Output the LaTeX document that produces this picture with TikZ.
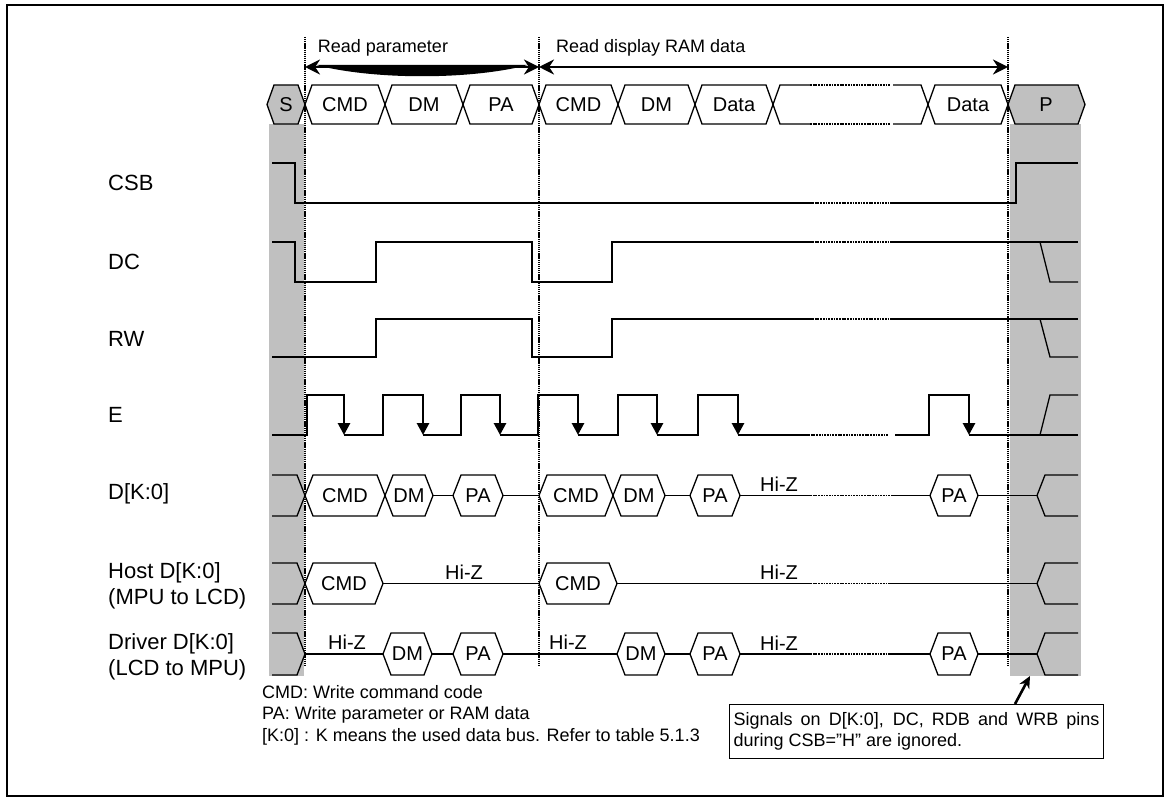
\documentclass[tikz,border=0pt]{standalone}
\usepackage{fontspec}
\setmainfont{Liberation Sans}
\usetikzlibrary{positioning, arrows.meta, calc}
\definecolor{ShadeGray}{RGB}{192, 192, 192}

% one bus value: from, to, centre y, half height, slant
\newcommand{\busseg}[5]{%
  \draw[sig] (#1,#3) -- (#1+#5,#3-#4) -- (#2-#5,#3-#4) -- (#2,#3)
    -- (#2-#5,#3+#4) -- (#1+#5,#3+#4) -- cycle;}

\begin{document}
\begin{tikzpicture}[x=1pt, y=-1pt,
    sig/.style={line width=1.3pt},
    hiz/.style={line width=1.6pt, dash pattern=on 1.8pt off 0.9pt},
    guide/.style={line width=1.3pt, dash pattern=on 1.3pt off 0.8pt},
    strobe/.style={line width=2.8pt, -{Triangle[length=12pt, width=12pt]}},
    lowline/.style={line width=1.8pt},
    span/.style={line width=2.6pt, {Stealth[length=15pt, width=15pt]}-{Stealth[length=15pt, width=15pt]}},
    lbl/.style={font=\fontsize{22}{26}\selectfont, anchor=base west, inner sep=0pt},
    val/.style={font=\fontsize{20}{24}\selectfont, inner sep=0pt},
    memo/.style={font=\fontsize{18}{21}\selectfont, inner sep=0pt}]
    \useasboundingbox (0,0) rectangle (1170,799);

    % frame
    \draw[line width=2.4pt] (7,5) rectangle (1163,796);

    % CSB="H" regions
    \fill[ShadeGray] (269,124) rectangle (304,676);
    \fill[ShadeGray] (1010,124) rectangle (1081,676);

    % phase guides
    \foreach \gx in {305,539,1008}
      \draw[guide] (\gx,37) -- (\gx,665);

    % phase spans
    \coordinate (g1) at (305,67);
    \coordinate (g2) at (539,67);
    \coordinate (g3) at (1008,67);
    \draw[span] (g1) -- (g2);
    \fill (316,65) -- (528,65) .. controls (470,80) and (374,80) .. (316,65);
    \draw[span] (g2) -- (g3);
    \node[memo] (readpar) at (383,48) {Read parameter};
    \node[memo, anchor=west] (readram) at (556,48) {Read display RAM data};

    % sequence row
    \filldraw[sig, fill=ShadeGray] (267,104.5) -- (274,85) -- (298,85) -- (305,104.5) -- (298,124) -- (274,124) -- cycle;
    \filldraw[sig, fill=ShadeGray] (1008,104.5) -- (1015,85) -- (1078,85) -- (1085,104.5) -- (1078,124) -- (1015,124) -- cycle;
    \node[val] (seqS) at (286,104.5) {S};
    \node[val] (seqP) at (1046,104.5) {P};
    \foreach \a/\b/\t [count=\i] in {305/385/CMD, 385/463/DM, 463/539/PA, 539/618/CMD, 618/695/DM, 695/773/Data, 928/1008/Data} {
      \busseg{\a}{\b}{104.5}{19.5}{7}
      \node[val] (seq\i) at ({(\a+\b)/2},104.5) {\t};
    }
    \draw[sig] (810,85) -- (780,85) -- (773,104.5) -- (780,124) -- (810,124);
    \draw[sig] (893,85) -- (921,85) -- (928,104.5) -- (921,124) -- (893,124);
    \draw[hiz] (810,85) -- (890,85);
    \draw[hiz] (810,124) -- (890,124);

    % signal names
    \node[lbl] (csb) at (108,191) {CSB};
    \node[lbl] (dc) at (108,270) {DC};
    \node[lbl] (rw) at (108,347) {RW};
    \node[lbl] (e) at (108,422) {E};
    \node[lbl] (dbus) at (108,499) {D[K:0]};
    \node[lbl] (hostA) at (108,578) {Host D[K:0]};
    \node[lbl] (hostB) at (108,604) {(MPU to LCD)};
    \node[lbl] (drvA) at (108,649) {Driver D[K:0]};
    \node[lbl] (drvB) at (108,675) {(LCD to MPU)};

    % CSB
    \draw[sig] (272,163) -- (295,163) -- (295,203) -- (812,203);
    \draw[hiz] (812,203) -- (892,203);
    \draw[sig] (892,203) -- (1016,203) -- (1016,163) -- (1078,163);

    % DC
    \draw[sig] (272,242) -- (295,242) -- (295,282) -- (376,282) -- (376,242) -- (532,242) -- (532,282) -- (612,282) -- (612,242) -- (812,242);
    \draw[hiz] (812,242) -- (892,242);
    \draw[sig] (892,242) -- (1078,242);
    \draw[sig] (1040,242) -- (1050,282) -- (1078,282);

    % RW
    \draw[sig] (272,357) -- (376,357) -- (376,319) -- (532,319) -- (532,357) -- (612,357) -- (612,319) -- (812,319);
    \draw[hiz] (812,319) -- (892,319);
    \draw[sig] (892,319) -- (1078,319);
    \draw[sig] (1040,319) -- (1050,357) -- (1078,357);

    % E
    \draw[sig] (272,435) -- (307,435);
    \foreach \r/\f in {307/344, 383/423, 461/500, 538/578, 618/657, 698/738, 929/969}
      \draw[strobe] (\r,436) -- (\r,395) -- (\f,395) -- (\f,435);
    \foreach \f/\r in {344/383, 423/461, 500/538, 578/618, 657/698}
      \draw[lowline] (\f,435) -- (\r,435);
    \draw[sig] (738,435) -- (808,435);
    \draw[hiz] (808,435) -- (888,435);
    \draw[sig] (895,435) -- (929,435);
    \draw[sig] (969,435) -- (1078,435);
    \draw[sig] (1040,435) -- (1050,395) -- (1078,395);

    % D[K:0]
    \draw[sig] (272,475) -- (297,475) -- (305,495.5) -- (297,516) -- (272,516);
    \foreach \a/\b/\t [count=\i] in {305/385/CMD, 385/433/DM, 453/503/PA, 539/613/CMD, 613/665/DM, 690/740/PA, 930/978/PA} {
      \busseg{\a}{\b}{495.5}{20.5}{8}
      \node[val] (dv\i) at ({(\a+\b)/2},495.5) {\t};
    }
    \draw[sig] (433,495.5) -- (453,495.5);
    \draw[sig] (503,495.5) -- (539,495.5);
    \draw[sig] (665,495.5) -- (690,495.5);
    \draw[sig] (740,495.5) -- (810,495.5);
    \draw[hiz] (810,495.5) -- (892,495.5);
    \draw[sig] (892,495.5) -- (930,495.5);
    \draw[sig] (978,495.5) -- (1037,495.5);
    \draw[sig] (1078,475) -- (1045,475) -- (1037,495.5) -- (1045,516) -- (1078,516);
    \node[val] (dhiz) at (779,484) {Hi-Z};

    % Host D[K:0]
    \draw[sig] (272,563) -- (297,563) -- (305,583.5) -- (297,604) -- (272,604);
    \foreach \a/\b/\t [count=\i] in {305/383/CMD, 539/617/CMD} {
      \busseg{\a}{\b}{583.5}{20.5}{8}
      \node[val] (hv\i) at ({(\a+\b)/2},583.5) {\t};
    }
    \draw[sig] (383,583.5) -- (539,583.5);
    \draw[sig] (617,583.5) -- (810,583.5);
    \draw[hiz] (810,583.5) -- (890,583.5);
    \draw[sig] (890,583.5) -- (1037,583.5);
    \draw[sig] (1078,563) -- (1045,563) -- (1037,583.5) -- (1045,604) -- (1078,604);
    \node[val] (hhizA) at (464,572) {Hi-Z};
    \node[val] (hhizB) at (779,572) {Hi-Z};

    % Driver D[K:0]
    \draw[sig] (272,633) -- (297,633) -- (305,654) -- (297,675) -- (272,675);
    \foreach \a/\b/\t [count=\i] in {383/432/DM, 453/503/PA, 617/665/DM, 690/740/PA, 930/978/PA} {
      \busseg{\a}{\b}{654}{21}{8}
      \node[val] (rv\i) at ({(\a+\b)/2},654) {\t};
    }
    \draw[sig] (305,654) -- (383,654);
    \draw[sig] (432,654) -- (453,654);
    \draw[sig] (503,654) -- (617,654);
    \draw[sig] (665,654) -- (690,654);
    \draw[sig] (740,654) -- (810,654);
    \draw[hiz] (810,654) -- (890,654);
    \draw[sig] (890,654) -- (930,654);
    \draw[sig] (978,654) -- (1037,654);
    \draw[sig] (1078,633) -- (1045,633) -- (1037,654) -- (1045,675) -- (1078,675);
    \node[val] (rhizA) at (347,642) {Hi-Z};
    \node[val] (rhizB) at (568,642) {Hi-Z};
    \node[val] (rhizC) at (779,643) {Hi-Z};

    % legend
    \node[memo, anchor=base west] (legcmd) at (262,698.5) {CMD: Write command code};
    \node[memo, anchor=base west] (legpa) at (262,719.5) {PA: Write parameter or RAM data};
    \node[memo, anchor=base west] (legbus) at (262,741) {[K:0] : K means the used data bus. Refer to table 5.1.3};

    % note on CSB="H"
    \node[memo, draw, line width=1pt, text width=366pt, align=justify, inner xsep=4pt, inner ysep=8pt, anchor=north west] (ignnote) at (729,704)
      {Signals on D[K:0], DC, RDB and WRB pins\linebreak during CSB=”H” are ignored.};
    \coordinate (ignhead) at (1030,676);
    \draw[line width=2.6pt, -{Stealth[length=12pt, width=11pt]}] ([xshift=286pt]ignnote.north west) -- (ignhead);
  \end{tikzpicture}
\end{document}
